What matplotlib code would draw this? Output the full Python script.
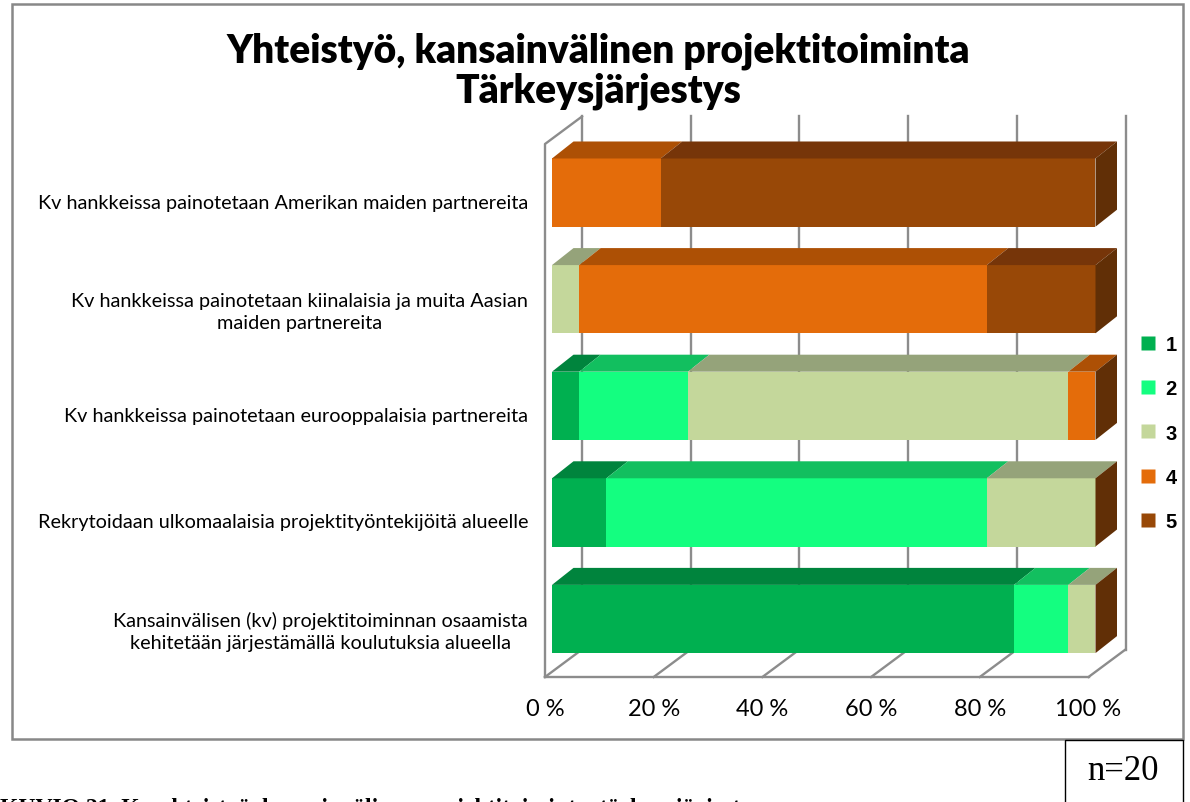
import matplotlib
matplotlib.use('Agg')
import matplotlib.pyplot as plt
import matplotlib.transforms as mtransforms
from matplotlib.patches import Polygon, Rectangle
from matplotlib.lines import Line2D
import numpy as np

# categories from bottom to top
categories = [
    "Kansainvälisen (kv) projektitoiminnan osaamista\nkehitetään järjestämällä koulutuksia alueella",
    "Rekrytoidaan ulkomaalaisia projektityöntekijöitä alueelle",
    "Kv hankkeissa painotetaan eurooppalaisia partnereita",
    "Kv hankkeissa painotetaan kiinalaisia ja muita Aasian\nmaiden partnereita",
    "Kv hankkeissa painotetaan Amerikan maiden partnereita",
]
series_names = ["1", "2", "3", "4", "5"]
# share of answers (%) per ranking, same order as categories
s1 = [85, 10, 5, 0, 0]
s2 = [10, 70, 20, 0, 0]
s3 = [5, 20, 70, 5, 0]
s4 = [0, 0, 5, 75, 20]
s5 = [0, 0, 0, 20, 80]
xticks = [0, 20, 40, 60, 80, 100]
xtick_labels = ["0 %", "20 %", "40 %", "60 %", "80 %", "100 %"]

title = "Yhteistyö, kansainvälinen projektitoiminta\nTärkeysjärjestys"

front_cols = ["#00B050", "#14FE80", "#C4D79B", "#E46C0A", "#984807"]
top_cols = ["#00843D", "#12BF5F", "#95A37A", "#AD5005", "#763509"]
side_col = "#612F06"
wall_col = "#8C8C8C"

W, H = 1190, 803
fig = plt.figure(figsize=(W / 100, H / 100), dpi=100)

# pixel layout of the fake 3d box
PX = 5.435       # px per percent
UNIT = 106.6     # px between bars
X0, Y0 = 552, 620  # 0 % of lowest bar front face (px from left / top)
xlim = (-3, 106)
ylim = (-0.9, 4.9)
ax = fig.add_axes([(X0 + xlim[0] * PX) / W,
                   (H - Y0 + ylim[0] * UNIT) / H,
                   (xlim[1] - xlim[0]) * PX / W,
                   (ylim[1] - ylim[0]) * UNIT / H])
ax.set_xlim(*xlim)
ax.set_ylim(*ylim)
for s in ax.spines.values():
    s.set_visible(False)

bdx, bdy = 21.5 / PX, 17 / UNIT          # bar depth
wx0 = -7 / PX                             # wall front plane
wdx, wdy = 37 / PX, 27.5 / UNIT           # wall depth
floor_y = (Y0 - 678) / UNIT
wall_top = (Y0 - 145) / UNIT
lw = 1.7

# floor, walls and gridlines
ax.plot([wx0, wx0 + 100], [floor_y, floor_y], color=wall_col, lw=lw, zorder=1, clip_on=False)
for v in xticks:
    ax.plot([wx0 + v, wx0 + v + wdx], [floor_y, floor_y + wdy], color=wall_col, lw=lw, zorder=1, clip_on=False)
    ax.plot([wx0 + v + wdx] * 2, [floor_y + wdy, wall_top + wdy], color=wall_col, lw=lw, zorder=1, clip_on=False)
ax.plot([wx0, wx0, wx0 + wdx], [floor_y, wall_top, wall_top + wdy], color=wall_col, lw=lw, zorder=1, clip_on=False)

# bars
ypos = np.arange(len(categories))
h = 0.32
series = [s1, s2, s3, s4, s5]
lefts = np.zeros(len(categories))
for k, vals in enumerate(series):
    vals = np.array(vals, dtype=float)
    ax.barh(ypos, vals, left=lefts, height=2 * h, color=front_cols[k], edgecolor='none', zorder=3)
    for y, l, w in zip(ypos, lefts, vals):
        if w <= 0:
            continue
        ax.add_patch(Polygon([(l, y + h), (l + w, y + h), (l + w + bdx, y + h + bdy), (l + bdx, y + h + bdy)],
                             closed=True, facecolor=top_cols[k], edgecolor='none', zorder=3))
    lefts += vals
for y, r in zip(ypos, lefts):
    ax.add_patch(Polygon([(r, y - h), (r + bdx, y - h + bdy), (r + bdx, y + h + bdy), (r, y + h)],
                         closed=True, facecolor=side_col, edgecolor='none', zorder=3))

# category labels
ax.set_xticks([])
ax.set_yticks(ypos)
ax.set_yticklabels(categories, fontsize=14.3, family='Lato', color='black', linespacing=1.35)
ax.tick_params(axis='y', length=0, pad=5.5)
offset = mtransforms.ScaledTranslation(0, -8 / 100, fig.dpi_scale_trans)
for lbl in ax.get_yticklabels():
    lbl.set_multialignment('center')
    lbl.set_transform(lbl.get_transform() + offset)

# percent labels under the floor
for v, t in zip(xticks, xtick_labels):
    ax.text(wx0 + v, (Y0 - 710) / UNIT, t, ha='center', va='center', fontsize=17, family='Lato')

# title
fig.text(598 / W, 1 - 33 / H, title, ha='center', va='top', fontsize=28, fontweight='heavy',
         family='Lato', linespacing=1.08)

# legend
handles = [Line2D([], [], marker='s', ls='none', markersize=10, markerfacecolor=c, markeredgecolor='none')
           for c in front_cols]
fig.legend(handles, series_names, loc='center left', bbox_to_anchor=(1122 / W, 1 - 434 / H),
           frameon=False, handlelength=0.8, handletextpad=0.45, labelspacing=1.25,
           prop={'family': 'Liberation Sans', 'weight': 'bold', 'size': 14.5})

# outer chart border
fig.add_artist(Rectangle((12 / W, 1 - 740 / H), (1183 - 12) / W, (740 - 5) / H, transform=fig.transFigure,
                         fill=False, edgecolor='#888888', lw=1.8))
# n box
fig.add_artist(Rectangle((1065 / W, -0.01), (1183 - 1065) / W, (803 - 741) / H + 0.01, transform=fig.transFigure,
                         fill=False, edgecolor='black', lw=1.0))
fig.text(1123 / W, 1 - 772 / H, "n=20", ha='center', va='center', fontsize=25, family='Liberation Serif')

# caption line cut at the page edge
fig.text(0.0, 1 - 798 / H, "KUVIO 21. Kv-yhteistyö, kansainvälinen projektitoiminta, tärkeysjärjestys",
         ha='left', va='top', fontsize=17, family='Liberation Serif', fontweight='bold')

fig.savefig('out.png', dpi=100)
